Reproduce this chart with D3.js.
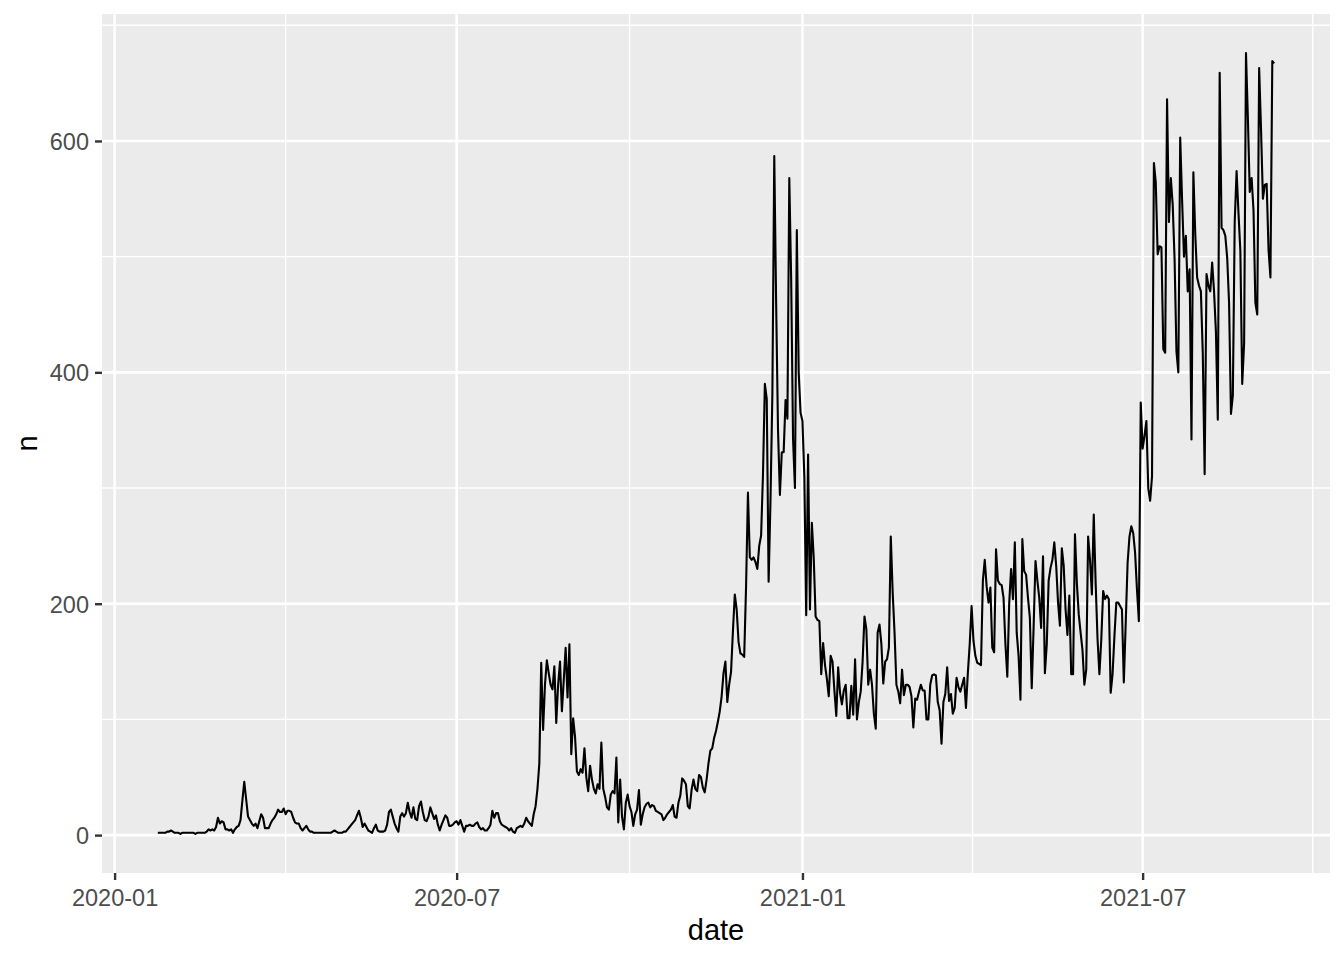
<!DOCTYPE html>
<html>
<head>
<meta charset="utf-8">
<script src="https://cdn.jsdelivr.net/npm/d3@7"></script>
<style>
  html, body { margin: 0; padding: 0; background: #ffffff; }
  svg { display: block; }
</style>
</head>
<body>
<svg id="chart" width="1344" height="960"></svg>
<script>
// ---- data ----
const startDate = "2020-01-24";
// daily values 2020-01-24 .. 2020-12-31
const n2020 = [
  2,2,2,2,2,3,3,4,3,2,
  2,2,1,2,2,2,2,2,2,2,
  1,2,2,2,2,2,3,5,4,5,
  4,7,15,10,12,11,5,5,4,5,
  2,5,7,8,13,30,46,31,16,13,
  10,8,10,6,12,18,15,6,6,6,
  10,13,15,18,22,20,20,23,18,21,
  21,20,15,11,10,10,6,4,6,8,
  5,3,3,2,2,2,2,2,2,2,
  2,2,2,3,4,3,2,2,2,3,
  3,5,7,9,11,13,17,21,15,7,
  10,7,4,3,2,6,9,4,3,3,
  3,4,9,20,22,16,10,6,3,16,
  19,16,19,28,20,15,24,14,13,25,
  29,20,13,12,16,24,19,14,17,9,
  4,9,13,17,15,8,8,9,11,12,
  9,13,8,3,8,8,9,8,8,10,
  11,7,5,6,4,4,6,9,21,15,
  19,19,12,9,8,7,6,4,6,3,
  2,6,7,8,7,10,15,12,10,8,
  18,25,40,62,149,91,130,151,140,130,
  126,146,97,130,150,107,134,162,119,165,
  70,101,85,55,52,57,54,75,50,38,
  60,48,40,36,44,40,80,40,33,24,
  22,35,38,36,67,11,48,16,5,28,
  35,25,20,8,18,22,39,9,18,24,
  27,28,24,26,25,21,20,19,18,13,
  15,18,20,22,26,16,15,28,34,49,
  47,44,25,23,39,48,40,38,52,50,
  41,37,48,62,73,75,84,90,98,107,
  120,140,150,115,130,141,176,208,195,167,
  157,156,154,215,296,240,238,240,236,230,
  250,259,312,390,377,219,290,382,587,460,
  350,294,331,331,376,360,568,480,342,300,
  523,400,365
];
// daily values 2021-01-01 .. 2021-09-09
const n2021 = [
  358,310,190,329,195,270,240,
  189,186,185,139,166,147,135,120,155,150,
  125,103,145,123,113,125,130,101,101,129,
  104,152,100,115,124,150,189,178,130,143,
  130,105,92,175,182,165,131,150,152,162,
  258,210,175,130,124,114,143,121,130,130,
  128,120,93,118,117,124,130,125,125,100,
  100,130,138,139,138,115,108,79,115,122,
  145,116,122,105,110,136,128,124,130,136,
  110,140,165,198,168,155,149,148,147,220,
  238,215,201,214,162,158,247,220,217,216,
  205,165,137,200,230,204,253,175,155,117,
  256,228,225,205,188,127,180,237,220,205,
  179,241,140,165,220,231,238,253,233,201,
  181,248,233,195,173,207,139,139,260,218,
  191,175,160,130,143,258,238,208,277,218,
  170,139,169,211,204,207,204,123,139,172,
  201,201,198,195,132,183,235,258,267,261,
  244,212,185,374,334,345,358,300,289,310,
  581,564,502,509,508,420,417,636,530,568,
  545,498,418,400,603,549,500,518,470,489,
  342,573,520,482,475,470,417,312,485,475,
  470,495,470,435,359,659,525,523,518,499,
  460,364,380,530,574,538,505,390,425,676,
  620,556,568,540,460,450,663,610,550,562,
  563,506,482,669,667
];
const xTickDates = ["2020-01-01", "2020-07-01", "2021-01-01", "2021-07-01"];
const yTickValues = [0, 200, 400, 600];
const xTitle = "date";
const yTitle = "n";

// ---- build series ----
const parse = d3.utcParse("%Y-%m-%d");
const t0 = parse(startDate);
const values = n2020.concat(n2021);
const data = values.map((v, i) => ({ date: d3.utcDay.offset(t0, i), n: v }));

// ---- layout ----
const W = 1344, H = 960;
const panel = { left: 102, right: 1330, top: 14, bottom: 873 };

const svg = d3.select("#chart");
svg.append("rect").attr("width", W).attr("height", H).attr("fill", "#ffffff");

const xExt = d3.extent(data, d => d.date);
const xSpan = xExt[1] - xExt[0];
const x = d3.scaleUtc()
  .domain([new Date(+xExt[0] - 0.05 * xSpan), new Date(+xExt[1] + 0.05 * xSpan)])
  .range([panel.left, panel.right]);

const yExt = d3.extent(data, d => d.n);
const ySpan = yExt[1] - yExt[0];
const y = d3.scaleLinear()
  .domain([yExt[0] - 0.05 * ySpan, yExt[1] + 0.05 * ySpan])
  .range([panel.bottom, panel.top]);

// panel background
svg.append("rect")
  .attr("x", panel.left).attr("y", panel.top)
  .attr("width", panel.right - panel.left)
  .attr("height", panel.bottom - panel.top)
  .attr("fill", "#EBEBEB");

const xMajor = xTickDates.map(parse);
// minor breaks: midpoints between majors, extended one step each side
const xm = xMajor.map(d => +d);
const xMinorNum = [];
for (let i = 0; i < xm.length - 1; i++) xMinorNum.push((xm[i] + xm[i + 1]) / 2);
xMinorNum.unshift(xm[0] - (xm[1] - xm[0]) / 2);
xMinorNum.push(xm[xm.length - 1] + (xm[xm.length - 1] - xm[xm.length - 2]) / 2);
const xMinor = xMinorNum.map(v => new Date(v)).filter(d => x(d) >= panel.left && x(d) <= panel.right);

const yMinor = [];
for (let i = 0; i < yTickValues.length - 1; i++) yMinor.push((yTickValues[i] + yTickValues[i + 1]) / 2);
yMinor.unshift(yTickValues[0] - (yTickValues[1] - yTickValues[0]) / 2);
yMinor.push(yTickValues[yTickValues.length - 1] + (yTickValues[1] - yTickValues[0]) / 2);
const yMinorIn = yMinor.filter(v => y(v) >= panel.top && y(v) <= panel.bottom);

const grid = svg.append("g");
grid.selectAll(".ymin").data(yMinorIn).enter().append("line")
  .attr("x1", panel.left).attr("x2", panel.right)
  .attr("y1", d => y(d)).attr("y2", d => y(d))
  .attr("stroke", "#ffffff").attr("stroke-width", 1.4);
grid.selectAll(".xmin").data(xMinor).enter().append("line")
  .attr("y1", panel.top).attr("y2", panel.bottom)
  .attr("x1", d => x(d)).attr("x2", d => x(d))
  .attr("stroke", "#ffffff").attr("stroke-width", 1.4);
grid.selectAll(".ymaj").data(yTickValues).enter().append("line")
  .attr("x1", panel.left).attr("x2", panel.right)
  .attr("y1", d => y(d)).attr("y2", d => y(d))
  .attr("stroke", "#ffffff").attr("stroke-width", 2.6);
grid.selectAll(".xmaj").data(xMajor).enter().append("line")
  .attr("y1", panel.top).attr("y2", panel.bottom)
  .attr("x1", d => x(d)).attr("x2", d => x(d))
  .attr("stroke", "#ffffff").attr("stroke-width", 2.6);

// line
const line = d3.line().x(d => x(d.date)).y(d => y(d.n));
svg.append("path")
  .datum(data)
  .attr("d", line)
  .attr("fill", "none")
  .attr("stroke", "#000000")
  .attr("stroke-width", 2.1)
  .attr("stroke-linejoin", "round")
  .attr("stroke-linecap", "butt");

// axes
const fontFam = "'Liberation Sans', Arial, sans-serif";
const xAxis = d3.axisBottom(x).tickValues(xMajor).tickFormat(d3.utcFormat("%Y-%m"))
  .tickSize(7).tickPadding(9);
const gx = svg.append("g").attr("transform", `translate(0,${panel.bottom})`).call(xAxis);
const yAxis = d3.axisLeft(y).tickValues(yTickValues).tickFormat(d3.format("d"))
  .tickSize(7).tickPadding(6);
const gy = svg.append("g").attr("transform", `translate(${panel.left},0)`).call(yAxis);

[gx, gy].forEach(g => {
  g.select(".domain").remove();
  g.selectAll(".tick line").attr("stroke", "#333333").attr("stroke-width", 2.4);
  g.selectAll(".tick text")
    .attr("fill", "#4D4D4D")
    .style("font-family", fontFam)
    .style("font-size", "23.5px");
});
gy.selectAll(".tick text").attr("dy", "0.36em");

// titles
svg.append("text")
  .attr("x", (panel.left + panel.right) / 2)
  .attr("y", 940)
  .attr("text-anchor", "middle")
  .style("font-family", fontFam)
  .style("font-size", "29px")
  .attr("fill", "#000000")
  .text(xTitle);

svg.append("text")
  .attr("transform", `translate(37,${(panel.top + panel.bottom) / 2}) rotate(-90)`)
  .attr("text-anchor", "middle")
  .style("font-family", fontFam)
  .style("font-size", "29px")
  .attr("fill", "#000000")
  .text(yTitle);
</script>
</body>
</html>
